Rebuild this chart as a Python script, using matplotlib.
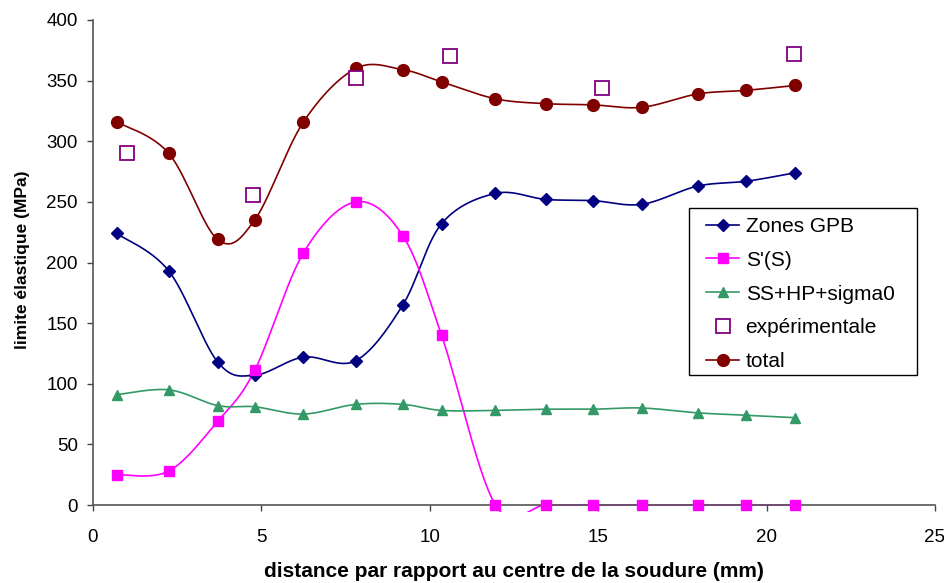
import numpy as np
import matplotlib
matplotlib.use("Agg")
import matplotlib.pyplot as plt
from matplotlib.patches import Rectangle

plt.rcParams['font.family'] = ['Liberation Sans', 'DejaVu Sans']

x = [0.7, 2.25, 3.7, 4.8, 6.25, 7.8, 9.2, 10.35, 11.95, 13.45, 14.85, 16.3, 17.95, 19.4, 20.85]
zones_gpb = [224, 193, 118, 107, 122, 119, 165, 232, 257, 252, 251, 248, 263, 267, 274]
s_prime = [25, 28, 69, 111, 208, 250, 222, 140, 0, 0, 0, 0, 0, 0, 0]
ss_hp = [91, 95, 82, 81, 75, 83, 83, 78, 78, 79, 79, 80, 76, 74, 72]
total = [316, 290, 219, 235, 316, 360, 359, 349, 335, 331, 330, 328, 339, 342, 346]
x_exp = [1.0, 4.75, 7.8, 10.6, 15.1, 20.8]
y_exp = [290, 256, 352, 370, 344, 372]

labels = ["Zones GPB", "S'(S)", "SS+HP+sigma0", "expérimentale", "total"]


def smooth(xs, ys, n=30):
    xs = np.asarray(xs, float)
    ys = np.asarray(ys, float)
    P = np.column_stack([xs, ys])
    m = len(P)
    out = []
    for i in range(m - 1):
        p0 = P[i - 1] if i > 0 else P[i]
        p1 = P[i]
        p2 = P[i + 1]
        p3 = P[i + 2] if i + 2 < m else P[i + 1]
        c1 = p1 + (p2 - p0) / 6.0
        c2 = p2 - (p3 - p1) / 6.0
        t = np.linspace(0, 1, n)[:, None]
        seg = ((1 - t) ** 3) * p1 + 3 * ((1 - t) ** 2) * t * c1 + 3 * (1 - t) * t ** 2 * c2 + t ** 3 * p2
        if i > 0:
            seg = seg[1:]
        out.append(seg)
    out = np.vstack(out)
    return out[:, 0], out[:, 1]


W, H = 945, 583
fig = plt.figure(figsize=(W / 100, H / 100), dpi=100)
ax = fig.add_axes([93 / W, 1 - 505 / H, 842 / W, 485 / H])

clip = Rectangle((0, -0.015), 1, 1.1, transform=ax.transAxes, visible=False)
ax.add_patch(clip)

series = [
    (zones_gpb, '#000080', 'D', 6.5, labels[0]),
    (s_prime, '#FF00FF', 's', 7, labels[1]),
    (ss_hp, '#339966', '^', 7.5, labels[2]),
]
handles = []
for ys, col, mk, ms, lab in series:
    sx, sy = smooth(x, ys)
    ln, = ax.plot(sx, sy, color=col, lw=1.2, zorder=2)
    ln.set_clip_path(clip)
    ax.plot(x, ys, ls='none', marker=mk, color=col, ms=ms, zorder=3, clip_on=False)
    h, = ax.plot([], [], color=col, lw=1.2, marker=mk, ms=ms, label=lab)
    handles.append(h)

he, = ax.plot(x_exp, y_exp, ls='none', marker='s', ms=10.5, mfc='white', mec='#800080', mew=1.3,
              zorder=4, label=labels[3])
handles.append(he)

sx, sy = smooth(x, total)
ax.plot(sx, sy, color='#800000', lw=1.2, zorder=2)
ax.plot(x, total, ls='none', marker='o', color='#800000', ms=8.5, zorder=3, clip_on=False)
ht, = ax.plot([], [], color='#800000', lw=1.2, marker='o', ms=8.5, label=labels[4])
handles.append(ht)

ax.set_xlim(0, 25)
ax.set_ylim(0, 400)
ax.set_xticks(range(0, 26, 5))
ax.set_yticks(range(0, 401, 50))
ax.tick_params(axis='both', labelsize=13.5, direction='out', length=4.5, width=1, color='#444444')
ax.tick_params(axis='x', pad=13)
ax.tick_params(axis='y', pad=6.5)
ax.spines['top'].set_visible(False)
ax.spines['right'].set_visible(False)
for s in ('left', 'bottom'):
    ax.spines[s].set_color('#555555')
    ax.spines[s].set_linewidth(1.2)

ax.set_xlabel("distance par rapport au centre de la soudure (mm)", fontsize=15, fontweight='bold', labelpad=11)
ax.set_ylabel("limite élastique (MPa)", fontsize=12.5, fontweight='bold')
ax.yaxis.set_label_coords(-0.0745, 0.505)

frame = Rectangle((689 / W, 1 - 375 / H), 228 / W, 167 / H, transform=fig.transFigure,
                  fill=True, facecolor='white', edgecolor='black', lw=1.0, zorder=5, clip_on=False)
ax.add_patch(frame)

leg = ax.legend(handles=handles, loc='upper left', bbox_to_anchor=(706 / W, 1 - 217 / H),
                bbox_transform=fig.transFigure,
                fontsize=15, frameon=False,
                handlelength=1.6, handletextpad=0.3, labelspacing=0.71, borderpad=0,
                borderaxespad=0)
leg.set_zorder(6)

fig.savefig("out.png", dpi=100)
